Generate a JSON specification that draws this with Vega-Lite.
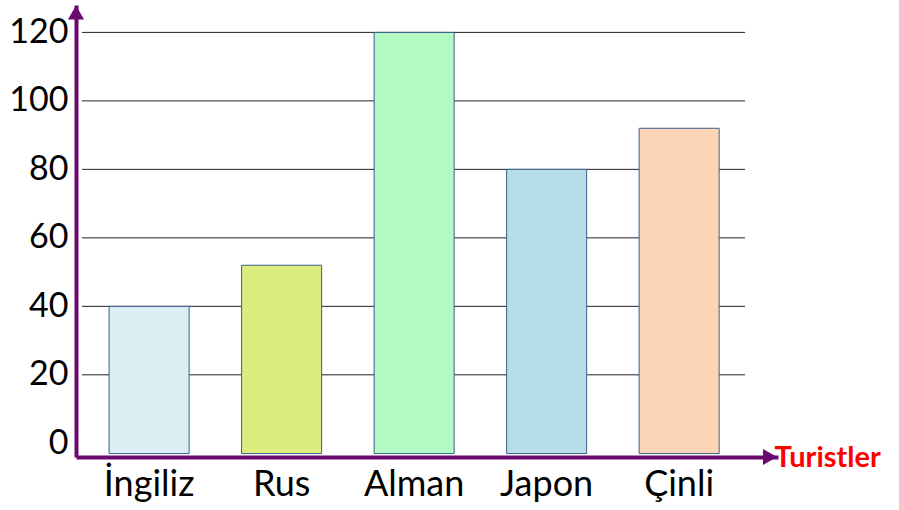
{
  "$schema": "https://vega.github.io/schema/vega-lite/v6.json",
  "width": 702,
  "height": 452,
  "autosize": {"type": "none"},
  "padding": {"left": 76, "top": 5, "right": 121, "bottom": 53},
  "background": "white",
  "config": {
    "view": {"stroke": null},
    "font": "Lato"
  },
  "datasets": {
    "bars": [
      {"turist": "İngiliz", "sayi": 40, "renk": "ingiliz"},
      {"turist": "Rus", "sayi": 52, "renk": "rus"},
      {"turist": "Alman", "sayi": 120, "renk": "alman"},
      {"turist": "Japon", "sayi": 80, "renk": "japon"},
      {"turist": "Çinli", "sayi": 92, "renk": "cinli"}
    ],
    "grid": [{"v": 20}, {"v": 40}, {"v": 60}, {"v": 80}, {"v": 100}, {"v": 120}]
  },
  "layer": [
    {
      "data": {"name": "grid"},
      "mark": {"type": "rule", "color": "#222222", "strokeWidth": 1},
      "encoding": {
        "y": {"field": "v", "type": "quantitative", "title": null, "scale": {"domain": [-4, 128], "nice": false, "zero": false},
              "axis": {"values": [0, 20, 40, 60, 80, 100, 120], "grid": false, "domainColor": "#6B0A6E", "domainWidth": 4, "ticks": false, "labelFontSize": 34, "labelColor": "black", "labelPadding": 8, "zindex": 1, "title": null}},
        "x": {"datum": 0.0085, "type": "quantitative", "scale": {"domain": [0, 1], "nice": false}, "axis": null},
        "x2": {"datum": 0.953}
      }
    },
    {
      "data": {"name": "bars"},
      "mark": {"type": "bar", "stroke": "#3B5E8C", "strokeWidth": 1},
      "encoding": {
        "x": {
          "field": "turist", "type": "nominal", "sort": null,
          "scale": {"paddingInner": 0.396, "paddingOuter": 0.347, "align": 0.36},
          "axis": {"labelAngle": 0, "labelFontSize": 36, "labelColor": "black", "labelPadding": 10, "ticks": false, "domainColor": "#6B0A6E", "domainWidth": 4, "zindex": 1,
                   "title": "Turistler", "titleColor": "#FF0000", "titleFont": "Lato", "titleFontWeight": "bold", "titleFontSize": 29, "titleX": 698, "titleY": 0, "titleAlign": "left", "titleAnchor": "start", "titleBaseline": "middle", "titleAngle": 0}
        },
        "y": {"field": "sayi", "type": "quantitative", "title": null,
              "axis": {"values": [0, 20, 40, 60, 80, 100, 120], "grid": false, "domainColor": "#6B0A6E", "domainWidth": 4, "ticks": false, "labelFontSize": 34, "labelColor": "black", "labelPadding": 8, "zindex": 1, "title": null}},
        "y2": {"datum": -3},
        "color": {
          "field": "renk", "type": "nominal", "legend": null,
          "scale": {"domain": ["ingiliz", "rus", "alman", "japon", "cinli"], "range": ["#DAEEF3", "#DCEC7E", "#B3F9C4", "#B7DEE8", "#FBD5B5"]}
        }
      }
    },
    {
      "data": {"values": [{}]},
      "mark": {"type": "point", "shape": "triangle-up", "filled": true, "color": "#6B0A6E", "opacity": 1, "size": 260},
      "encoding": {
        "x": {"datum": 0.0, "type": "quantitative", "scale": {"domain": [0, 1], "nice": false}, "axis": null},
        "y": {"datum": 125.8, "type": "quantitative"}
      }
    },
    {
      "data": {"values": [{}]},
      "mark": {"type": "point", "shape": "triangle-right", "filled": true, "color": "#6B0A6E", "opacity": 1, "size": 260},
      "encoding": {
        "x": {"datum": 0.9886, "type": "quantitative", "scale": {"domain": [0, 1], "nice": false}, "axis": null},
        "y": {"datum": -4, "type": "quantitative"}
      }
    }
  ],
  "resolve": {"scale": {"x": "independent"}}
}
